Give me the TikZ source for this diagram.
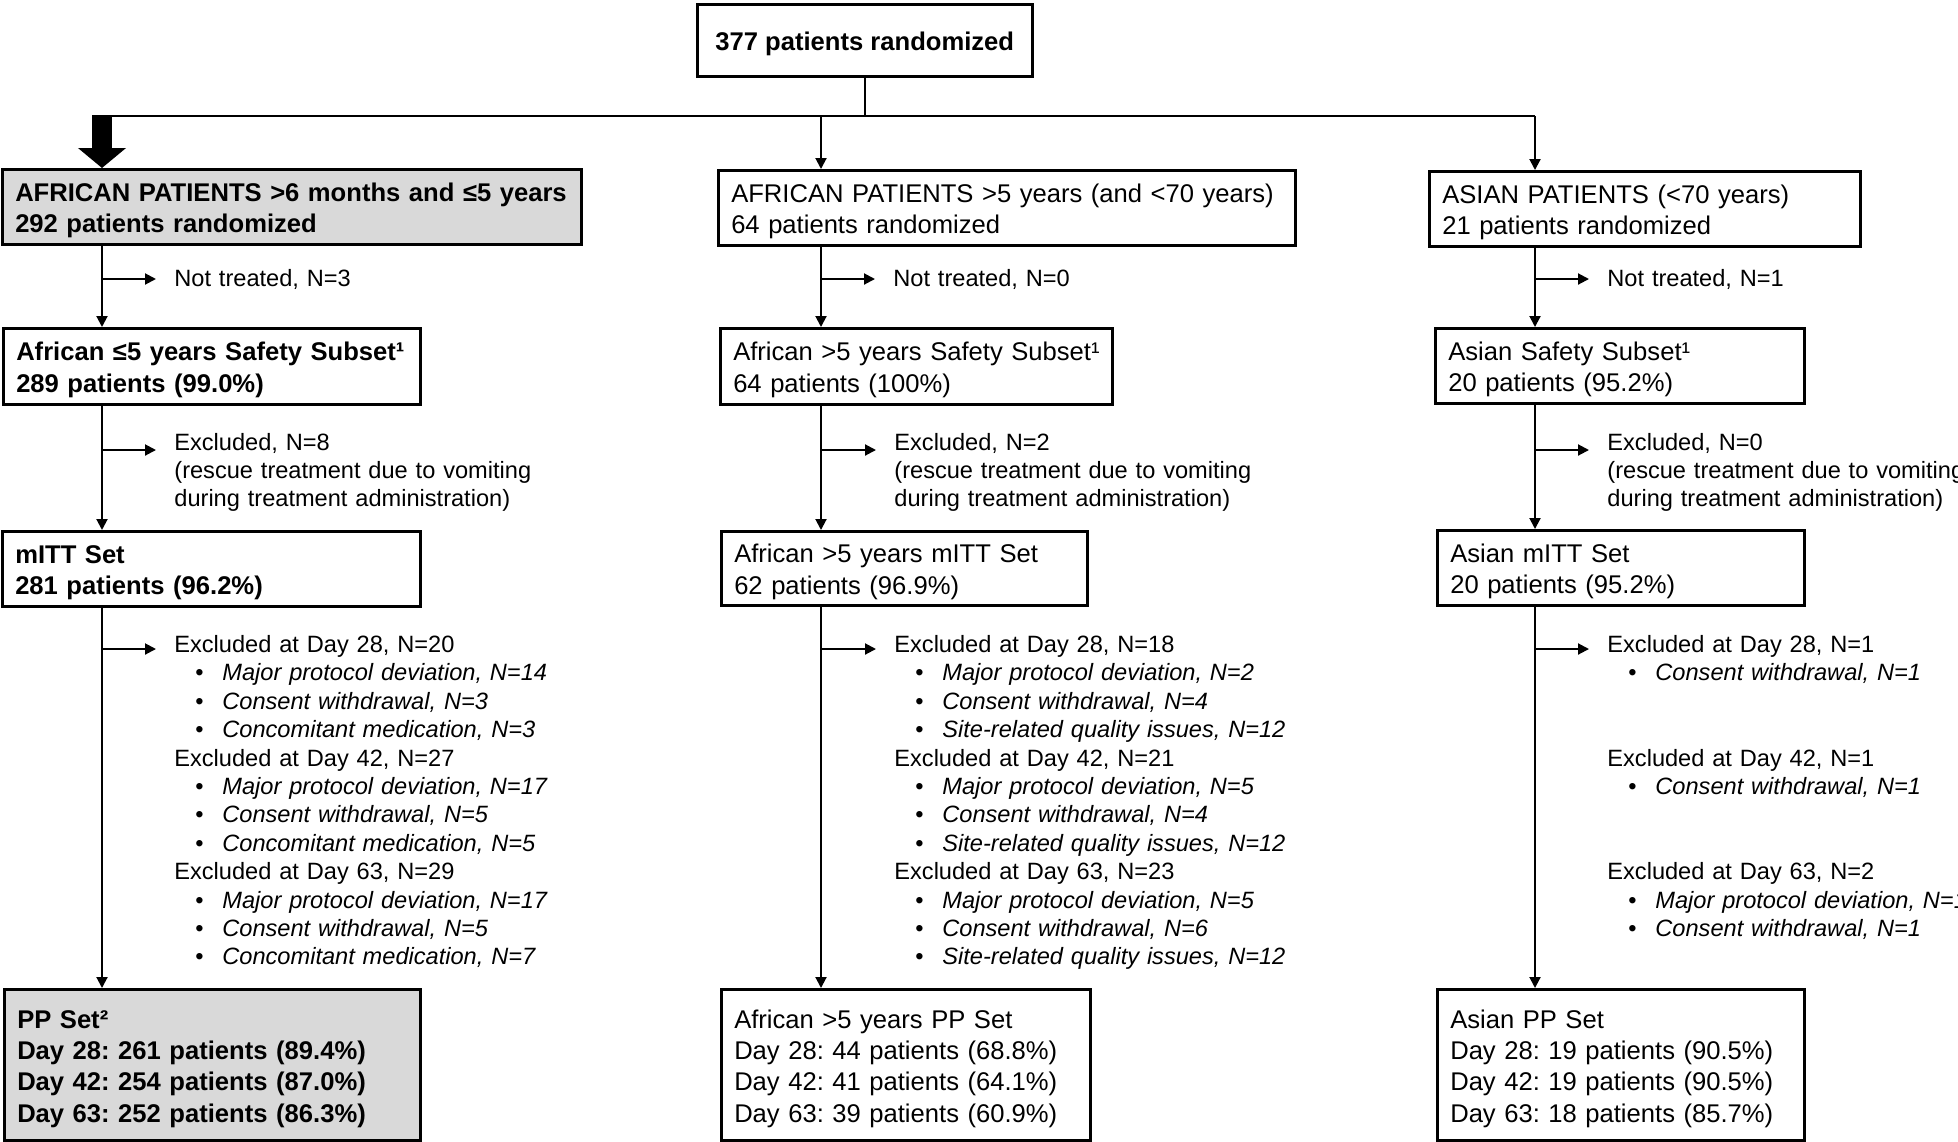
\documentclass[tikz,border=0pt]{standalone}
\usepackage{fontspec}
\setmainfont{Liberation Sans}
\usetikzlibrary{arrows.meta}
\frenchspacing

\newcommand{\boxfont}{\fontsize{12.8pt}{15.7pt}\selectfont}
\newcommand{\sidefont}{\fontsize{11.8pt}{14.2pt}\selectfont}
\newcommand{\bul}[1]{\hspace*{10.5pt}\makebox[13.5pt][l]{\textbullet}\textit{#1}}

\begin{document}
\begin{tikzpicture}[x=0.5pt, y=-0.5pt,
    box/.style={draw, line width=1.25pt, anchor=north west, align=left,
        inner xsep=6.5pt, inner ysep=0pt, font=\boxfont,
        execute at begin node={\rule{0pt}{13pt}}},
    greybox/.style={box, fill=black!15, font=\boxfont\bfseries},
    side/.style={anchor=base west, align=left, inner sep=0pt,
        text width=230pt, font=\sidefont},
    arr/.style={line width=1pt, -{Triangle[length=5.5pt, width=5.5pt]}},
    sidearr/.style={arr, shorten >=9pt},
    bigarr/.style={line width=10pt, -{Triangle[length=10pt, width=23.5pt]}}]

    \useasboundingbox (0,0) rectangle (1958,1141);
    \clip (0,0) rectangle (1958,1141);

    \node [box, align=center, minimum width=167.5pt, minimum height=36pt,
        font=\boxfont\bfseries, execute at begin node={}] (top) at (696,3) {377 patients randomized};

    \coordinate (c1) at (102,116);
    \coordinate (c2) at (821,116);
    \coordinate (c3) at (1535,116);

    % african <= 5 years
    \node [greybox, text width=276.5pt, minimum height=37.5pt] (afr1) at (1,168)
        {AFRICAN PATIENTS >6 months and ≤5 years\\292 patients randomized};
    \node [box, text width=195.5pt, minimum height=38pt, font=\boxfont\bfseries] (saf1) at (2,327)
        {African ≤5 years Safety Subset¹\\289 patients (99.0\%)};
    \node [box, text width=196pt, minimum height=37.5pt, font=\boxfont\bfseries] (mitt1) at (1,530)
        {mITT Set\\281 patients (96.2\%)};
    \node [greybox, text width=195pt, minimum height=75.5pt] (pp1) at (3,988)
        {PP Set²\\Day 28: 261 patients (89.4\%)\\Day 42: 254 patients (87.0\%)\\Day 63: 252 patients (86.3\%)};

    \node [side] (nt1) at (174,286) {Not treated, N=3};
    \node [side] (ex1) at (174,450)
        {Excluded, N=8\\(rescue treatment due to vomiting\\during treatment administration)};
    \node [side] (day1) at (174,652.5)
        {Excluded at Day 28, N=20\\
         \bul{Major protocol deviation, N=14}\\
         \bul{Consent withdrawal, N=3}\\
         \bul{Concomitant medication, N=3}\\
         Excluded at Day 42, N=27\\
         \bul{Major protocol deviation, N=17}\\
         \bul{Consent withdrawal, N=5}\\
         \bul{Concomitant medication, N=5}\\
         Excluded at Day 63, N=29\\
         \bul{Major protocol deviation, N=17}\\
         \bul{Consent withdrawal, N=5}\\
         \bul{Concomitant medication, N=7}};

    % african > 5 years
    \node [box, text width=275.5pt, minimum height=37.5pt] (afr2) at (717,169)
        {AFRICAN PATIENTS >5 years (and <70 years)\\64 patients randomized};
    \node [box, inner xsep=3pt, text width=190pt, minimum height=38pt] (saf2) at (719,327)
        {\hspace*{3.5pt}African >5 years Safety Subset¹\\\hspace*{3.5pt}64 patients (100\%)};
    \node [box, text width=170pt, minimum height=37pt] (mitt2) at (720,530)
        {African >5 years mITT Set\\62 patients (96.9\%)};
    \node [box, text width=171.5pt, minimum height=75.5pt] (pp2) at (720,988)
        {African >5 years PP Set\\Day 28: 44 patients (68.8\%)\\Day 42: 41 patients (64.1\%)\\Day 63: 39 patients (60.9\%)};

    \node [side] (nt2) at (893,286) {Not treated, N=0};
    \node [side] (ex2) at (894,450)
        {Excluded, N=2\\(rescue treatment due to vomiting\\during treatment administration)};
    \node [side] (day2) at (894,652.5)
        {Excluded at Day 28, N=18\\
         \bul{Major protocol deviation, N=2}\\
         \bul{Consent withdrawal, N=4}\\
         \bul{Site-related quality issues, N=12}\\
         Excluded at Day 42, N=21\\
         \bul{Major protocol deviation, N=5}\\
         \bul{Consent withdrawal, N=4}\\
         \bul{Site-related quality issues, N=12}\\
         Excluded at Day 63, N=23\\
         \bul{Major protocol deviation, N=5}\\
         \bul{Consent withdrawal, N=6}\\
         \bul{Site-related quality issues, N=12}};

    % asian
    \node [box, text width=202.5pt, minimum height=37.5pt] (afr3) at (1428,170)
        {ASIAN PATIENTS (<70 years)\\21 patients randomized};
    \node [box, text width=171.5pt, minimum height=37.5pt] (saf3) at (1434,327)
        {Asian Safety Subset¹\\20 patients (95.2\%)};
    \node [box, text width=170.5pt, minimum height=37.5pt] (mitt3) at (1436,529)
        {Asian mITT Set\\20 patients (95.2\%)};
    \node [box, text width=170.5pt, minimum height=75.5pt] (pp3) at (1436,988)
        {Asian PP Set\\Day 28: 19 patients (90.5\%)\\Day 42: 19 patients (90.5\%)\\Day 63: 18 patients (85.7\%)};

    \node [side] (nt3) at (1607,286) {Not treated, N=1};
    \node [side] (ex3) at (1607,450)
        {Excluded, N=0\\(rescue treatment due to vomiting\\during treatment administration)};
    \node [side] (day3) at (1607,652.5)
        {Excluded at Day 28, N=1\\
         \bul{Consent withdrawal, N=1}\\[\dimexpr2\baselineskip\relax]
         Excluded at Day 42, N=1\\
         \bul{Consent withdrawal, N=1}\\[\dimexpr2\baselineskip\relax]
         Excluded at Day 63, N=2\\
         \bul{Major protocol deviation, N=1}\\
         \bul{Consent withdrawal, N=1}};

    % connectors
    \draw [line width=1pt] (top.south) -- (top.south |- c1);
    \draw [line width=1pt] ([xshift=-5pt]c1) -- (c3);
    \draw [bigarr] ([yshift=0.5pt]c1) -- (c1 |- afr1.north);
    \draw [arr] (c2) -- (c2 |- afr2.north);
    \draw [arr] (c3) -- (c3 |- afr3.north);

    \draw [arr] (c1 |- afr1.south) -- (c1 |- saf1.north);
    \draw [arr] (c1 |- saf1.south) -- (c1 |- mitt1.north);
    \draw [arr] (c1 |- mitt1.south) -- (c1 |- pp1.north);
    \draw [arr] (c2 |- afr2.south) -- (c2 |- saf2.north);
    \draw [arr] (c2 |- saf2.south) -- (c2 |- mitt2.north);
    \draw [arr] (c2 |- mitt2.south) -- (c2 |- pp2.north);
    \draw [arr] (c3 |- afr3.south) -- (c3 |- saf3.north);
    \draw [arr] (c3 |- saf3.south) -- (c3 |- mitt3.north);
    \draw [arr] (c3 |- mitt3.south) -- (c3 |- pp3.north);

    \coordinate (b1) at (102,279);
    \coordinate (b2) at (821,279);
    \coordinate (b3) at (1535,279);
    \coordinate (e1) at (102,450);
    \coordinate (e2) at (821,450);
    \coordinate (e3) at (1535,450);
    \coordinate (d1) at (102,649);
    \coordinate (d2) at (821,649);
    \coordinate (d3) at (1535,649);
    \draw [sidearr] (b1) -- (b1 -| nt1.west);
    \draw [sidearr] (b2) -- (b2 -| nt2.west);
    \draw [sidearr] (b3) -- (b3 -| nt3.west);
    \draw [sidearr] (e1) -- (e1 -| ex1.west);
    \draw [sidearr] (e2) -- (e2 -| ex2.west);
    \draw [sidearr] (e3) -- (e3 -| ex3.west);
    \draw [sidearr] (d1) -- (d1 -| day1.west);
    \draw [sidearr] (d2) -- (d2 -| day2.west);
    \draw [sidearr] (d3) -- (d3 -| day3.west);
\end{tikzpicture}
\end{document}
